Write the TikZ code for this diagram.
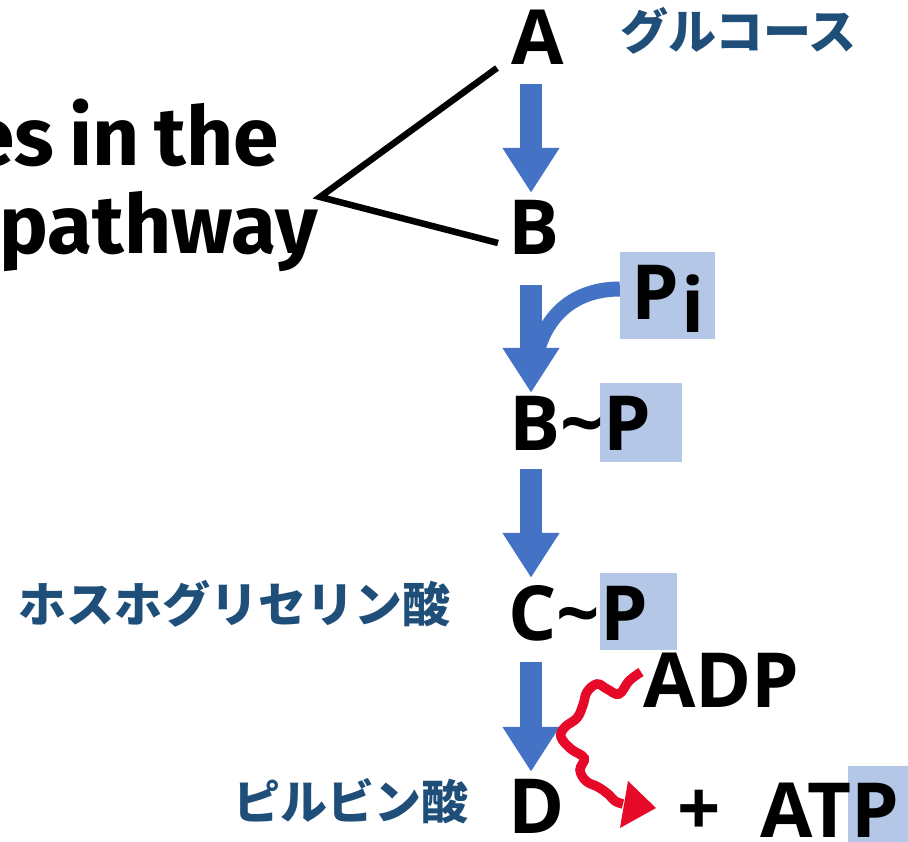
\documentclass[tikz,border=0pt]{standalone}
\usepackage{fontspec}
\setmainfont{Open Sans}
\newfontfamily\labelfont{Fira Sans}
\newfontfamily\jpfont{Noto Sans CJK JP}
\usetikzlibrary{arrows.meta}

\definecolor{flowblue}{HTML}{4472C4}
\definecolor{tagblue}{HTML}{B4C7E7}
\definecolor{namenavy}{HTML}{1F4E79}
\definecolor{energyred}{HTML}{E60A28}

\begin{document}
\begin{tikzpicture}[x=1pt,y=-1pt,
  chem/.style={inner sep=0pt, anchor=base west,
    font=\fontsize{76}{76}\selectfont\bfseries, text height=55pt, text depth=0pt},
  jname/.style={inner sep=0pt, anchor=west, text=namenavy,
    font=\jpfont\fontsize{48}{48}\selectfont\bfseries},
  caption/.style={inner sep=0pt, anchor=base east,
    font=\labelfont\fontsize{82}{82}\selectfont\bfseries},
  tag/.style={fill=tagblue, inner sep=0pt},
  steparrow/.style={draw=flowblue, line width=22pt,
    -{Triangle[length=45pt,width=54pt]}},
  pointer/.style={draw=black, line width=6.5pt, line join=miter},
]
\path[use as bounding box] (0,0) rectangle (908,842);

% highlight boxes behind the phosphate groups
\node[tag, minimum width=95pt, minimum height=87pt] (Pibox) at (667.5,295.5) {};
\node[tag, minimum width=82pt, minimum height=79pt] (BPbox) at (641,422.5) {};
\node[tag, minimum width=77pt, minimum height=77pt] (CPbox) at (638.5,611.5) {};
\node[tag, minimum width=60pt, minimum height=76pt] (ATPbox) at (878,804) {};

% pathway intermediates
\node[chem] (A) at (511,65) {A};
\node[chem] (B) at (508,255) {B};
\node[chem] (BP) at (509,450) {B\char"007E P};
\node[chem] (CP) at (508,640) {C\char"007E P};
\node[chem] (D) at (508,833) {D};
\node[chem] (Pi) at (631,320) {P\kern3pt\raisebox{-13pt}{i}};
\node[chem] (ADP) at (643,707) {ADP};
\node[inner sep=0pt, font=\fontsize{76}{76}\selectfont\bfseries] (plus) at (699,813) {+};
\node[chem] (ATP) at (760,837) {ATP};

% Japanese names
\node[jname] (glucose) at (620,31) {グルコース};
\node[jname] (pga) at (18,604) {ホスホグリセリン酸};
\node[jname, font=\jpfont\fontsize{47}{47}\selectfont\bfseries] (pyruvate) at (233,801) {ピルビン酸};

% caption on the left
\node[caption] (cap1) at (279,166) {es\hspace{15pt}in\hspace{15pt}the};
\node[caption] (cap2) at (318,254) {pathway};

% bracket pointing to A and B
\coordinate (vtx) at (320,197);
\coordinate (toA) at (497,68);
\coordinate (toB) at (498,243);
\draw[pointer] (toA) -- (vtx) -- (toB);

% main flow arrows
\coordinate (axis) at (531,0);
\draw[flowblue, line width=15pt] ([yshift=6.5pt]Pibox.west)
  .. controls (585,289) and (550,305) .. (537,352);
\draw[steparrow, shorten <=19pt, shorten >=7pt] (A.south -| axis) -- (B.north -| axis);
\draw[steparrow, shorten <=30pt, shorten >=2pt] (B.south -| axis) -- (BP.north -| axis);
\draw[steparrow, shorten <=19pt, shorten >=7pt] (BP.south -| axis) -- (CP.north -| axis);
\draw[steparrow, shorten <=22pt, shorten >=6pt] (CP.south -| axis) -- (D.north -| axis);

% wavy energy transfer from ADP to ATP
\coordinate (adpend) at (641,672);
\coordinate (atptip) at (656,808);
\draw[energyred, line width=9.5pt] plot[smooth, tension=0.65] coordinates {
  (adpend) (629,681) (619,694) (607,689) (597,684) (587,692) (583,705)
  (577,718) (565,727) (561,737) (571,749) (584,758) (580,770) (586,781)
  (598,787) (608,794) (615,801) (623,804)};
\fill[energyred] (628,781) -- (atptip) -- (620,828) -- cycle;
\end{tikzpicture}
\end{document}
